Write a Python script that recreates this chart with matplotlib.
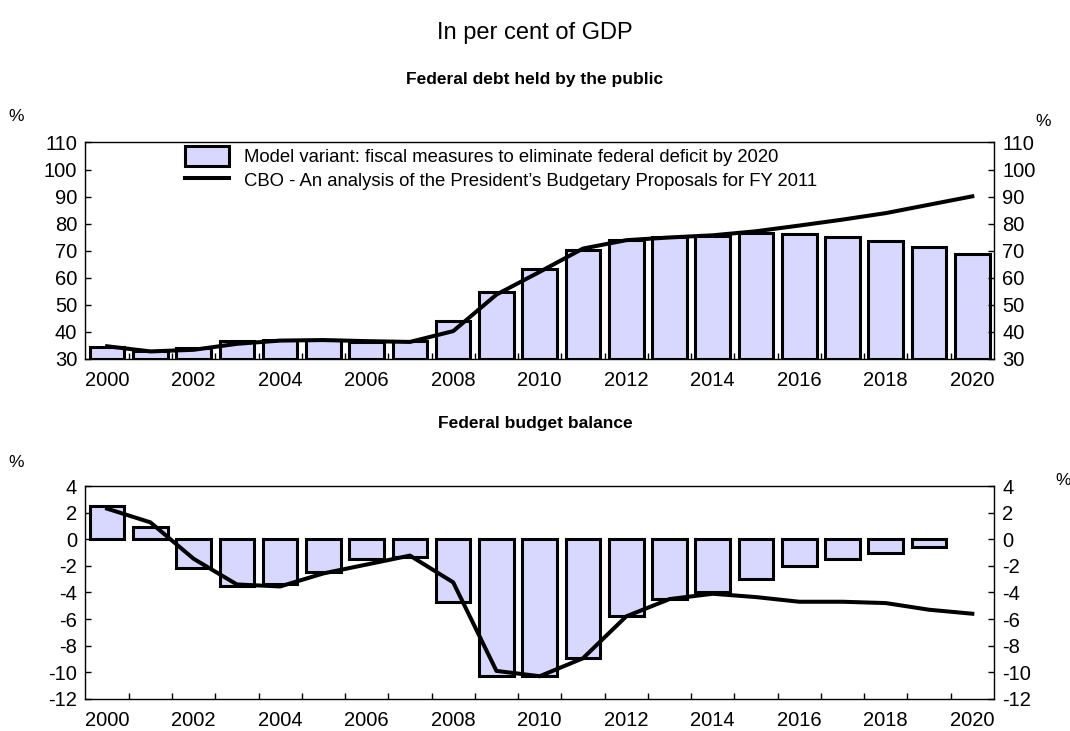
import matplotlib.pyplot as plt
import numpy as np

plt.rcParams['font.family'] = ['Liberation Sans', 'DejaVu Sans']
plt.rcParams['axes.unicode_minus'] = False

years = list(range(2000, 2021))

# Federal debt held by the public, % of GDP
debt_model = [34.3, 33.1, 34.1, 36.5, 37.1, 37.1, 36.3, 36.5, 44.1, 54.9, 63.2,
              70.4, 73.9, 75.0, 75.6, 76.6, 76.3, 75.1, 73.5, 71.3, 68.7]
debt_cbo = [34.7, 32.8, 33.4, 35.6, 36.8, 37.0, 36.6, 36.3, 40.3, 53.8, 62.2,
            70.8, 73.9, 74.9, 75.7, 77.2, 79.3, 81.5, 83.9, 87.0, 90.1]

# Federal budget balance, % of GDP (no model bar for 2020)
bal_model = [2.5, 0.9, -2.15, -3.55, -3.4, -2.5, -1.5, -1.37, -4.7, -10.3, -10.3,
             -8.95, -5.8, -4.5, -4.0, -3.0, -2.0, -1.5, -1.0, -0.55, np.nan]
bal_cbo = [2.3, 1.27, -1.47, -3.4, -3.55, -2.57, -1.9, -1.23, -3.24, -9.9, -10.3,
           -8.95, -5.8, -4.5, -4.1, -4.35, -4.7, -4.7, -4.8, -5.3, -5.6]

label_model = 'Model variant: fiscal measures to eliminate federal deficit by 2020'
label_cbo = 'CBO - An analysis of the President\u2019s Budgetary Proposals for FY 2011'

BAR_COLOR = '#D8D8FF'

fig = plt.figure(figsize=(10.70, 7.31), dpi=100)
ax1 = fig.add_axes([0.0799, 0.5089, 0.849, 0.2962])
ax2 = fig.add_axes([0.0799, 0.0440, 0.849, 0.2911])

x = np.arange(len(years))


def style_axis(ax, ylim, yticks):
    ax.set_xlim(-0.5, len(years) - 0.5)
    ax.set_ylim(*ylim)
    ax.set_yticks(yticks)
    ax.set_xticks(x[::2])
    ax.set_xticklabels([str(y) for y in years[::2]])
    ax.set_xticks(x[:-1] + 0.5, minor=True)
    ax.tick_params(axis='x', which='major', length=0, pad=8.5, labelsize=14.5)
    ax.tick_params(axis='x', which='minor', direction='in', length=4, width=1)
    ax.tick_params(axis='y', direction='in', length=4, width=1, labelsize=14.5,
                   left=True, right=True, labelleft=True, labelright=True, pad=6)
    for s in ax.spines.values():
        s.set_linewidth(1.0)
        s.set_color('black')


# top panel
bars = ax1.bar(x, np.array(debt_model) - 30, bottom=30, width=0.8, color=BAR_COLOR,
               edgecolor='black', linewidth=2.2, label=label_model)
line, = ax1.plot(x, debt_cbo, color='black', linewidth=2.9, label=label_cbo)
style_axis(ax1, (30, 110), range(30, 111, 10))
ax1.legend([bars, line], [label_model, label_cbo], loc='upper left',
           bbox_to_anchor=(0.101, 1.02), frameon=False,
           fontsize=13.3, handlelength=2.4, handleheight=1.3, labelspacing=0.2,
           handletextpad=0.8, borderaxespad=0)

# bottom panel
ax2.bar(x, bal_model, width=0.8, color=BAR_COLOR, edgecolor='black', linewidth=2.2)
ax2.plot(x, bal_cbo, color='black', linewidth=2.9)
style_axis(ax2, (-12, 4), range(-12, 5, 2))

# titles and unit markers
fig.text(0.5, 0.955, 'In per cent of GDP', ha='center', va='center', fontsize=17)
fig.text(0.5, 0.8906, 'Federal debt held by the public', ha='center', va='center',
         fontsize=12.5, fontweight='bold')
fig.text(0.5, 0.42, 'Federal budget balance', ha='center', va='center',
         fontsize=12.5, fontweight='bold')

fig.text(0.008, 0.84, '%', fontsize=12.5, va='center')
fig.text(0.968, 0.834, '%', fontsize=12.5, va='center')
fig.text(0.008, 0.367, '%', fontsize=12.5, va='center')
fig.text(0.986, 0.343, '%', fontsize=12.5, va='center')

fig.savefig('out.png', dpi=100)
